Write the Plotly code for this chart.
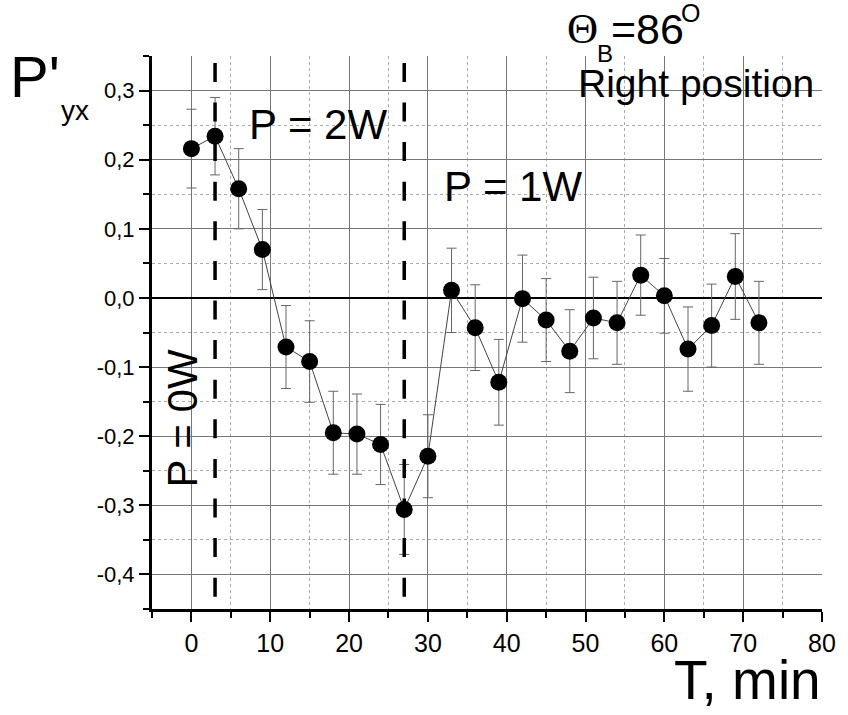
import plotly.graph_objects as go

# ---- data ----
t_min = [0, 3, 6, 9, 12, 15, 18, 21, 24, 27, 30, 33, 36, 39, 42, 45, 48, 51, 54, 57, 60, 63, 66, 69, 72]
p_yx = [0.216, 0.234, 0.158, 0.070, -0.071, -0.092, -0.195, -0.197, -0.212, -0.306, -0.229,
        0.011, -0.043, -0.122, -0.001, -0.032, -0.077, -0.029, -0.036, 0.033, 0.003, -0.074,
        -0.040, 0.031, -0.036]
p_err = [0.057, 0.056, 0.058, 0.058, 0.060, 0.059, 0.060, 0.058, 0.058, 0.065, 0.060,
         0.061, 0.062, 0.062, 0.063, 0.060, 0.060, 0.059, 0.060, 0.058, 0.054, 0.061,
         0.060, 0.062, 0.060]
power_switch_t = [3, 27]
y_tickvals = [-0.4, -0.3, -0.2, -0.1, 0.0, 0.1, 0.2, 0.3]
y_ticktext = ["-0,4", "-0,3", "-0,2", "-0,1", "0,0", "0,1", "0,2", "0,3"]
x_tickvals = [0, 10, 20, 30, 40, 50, 60, 70, 80]
x_ticktext = ["0", "10", "20", "30", "40", "50", "60", "70", "80"]

W, H = 848, 715
L, R, T, B = 152, 831, 56, 609
FONT = "Arial, Liberation Sans, sans-serif"


def px(x):
    return (x - L) / (R - L)


def py(y):
    return (B - y) / (B - T)


fig = go.Figure()
fig.add_trace(go.Scatter(
    x=t_min, y=p_yx, mode="lines+markers",
    line=dict(color="#444444", width=1),
    marker=dict(color="black", size=17),
    error_y=dict(type="data", array=p_err, visible=True, color="#666666", thickness=1, width=5),
    showlegend=False,
))

for xv in power_switch_t:
    fig.add_shape(type="line", xref="x", yref="y", x0=xv, x1=xv, y0=0.34, y1=-0.45,
                  line=dict(color="black", width=3.5, dash="19px,20.6px"))

annots = [
    dict(text="P'", x=px(33), y=py(76), size=58),
    dict(text="yx", x=px(74), y=py(110), size=28),
    dict(text="P = 2W", x=px(320), y=py(124.5), size=42),
    dict(text="P = 1W", x=px(518), y=py(186.7), size=42),
    dict(text="P = 0W", x=px(182), y=py(419), size=42, angle=-90),
    dict(text="=86", x=px(654), y=py(28.5), size=43),
    dict(text="B", x=px(611), y=py(53.5), size=24),
    dict(text="O", x=px(698), y=py(12.5), size=25),
    dict(text="Right position", x=px(703), y=py(83), size=39),
    dict(text="T, min", x=px(756), y=py(680), size=55),
]
for a in annots:
    fig.add_annotation(text=a["text"], x=a["x"], y=a["y"], xref="paper", yref="paper",
                       xanchor="center", yanchor="middle", showarrow=False,
                       textangle=a.get("angle", 0),
                       font=dict(family=FONT, size=a["size"], color="black"))
fig.add_annotation(text="Θ", x=px(588), y=py(29), xref="paper", yref="paper",
                   xanchor="center", yanchor="middle", showarrow=False,
                   font=dict(family="Liberation Serif, Times New Roman, serif", size=43, color="black"))

fig.update_layout(
    width=W, height=H,
    margin=dict(l=L, r=W - R, t=T, b=H - B, pad=0),
    paper_bgcolor="white", plot_bgcolor="white",
    font=dict(family=FONT, color="black"),
)
fig.update_xaxes(
    range=[-5, 80], tickvals=x_tickvals, ticktext=x_ticktext,
    ticks="outside", ticklen=10, tickwidth=2, tickcolor="black",
    showline=True, linewidth=3, linecolor="black",
    showgrid=True, gridcolor="#777777", gridwidth=1,
    zeroline=False,
    tickfont=dict(size=25, family=FONT, color="black"),
    minor=dict(tick0=0, dtick=5, ticks="outside", ticklen=6, tickwidth=2, tickcolor="black",
               showgrid=True, gridcolor="#aaaaaa", griddash="dot", gridwidth=1),
)
fig.update_yaxes(
    range=[-0.45, 0.35], tickvals=y_tickvals, ticktext=y_ticktext,
    ticks="outside", ticklen=10, tickwidth=2, tickcolor="black",
    showline=True, linewidth=3, linecolor="black",
    showgrid=True, gridcolor="#777777", gridwidth=1,
    zeroline=True, zerolinecolor="black", zerolinewidth=2,
    tickfont=dict(size=22, family=FONT, color="black"),
    minor=dict(tick0=0, dtick=0.05, ticks="outside", ticklen=6, tickwidth=2, tickcolor="black",
               showgrid=True, gridcolor="#aaaaaa", griddash="dot", gridwidth=1),
)

fig.write_html("out.html")
